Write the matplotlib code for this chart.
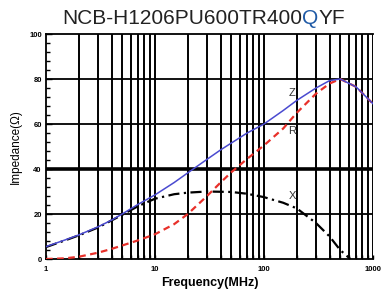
import matplotlib
matplotlib.use('Agg')
import matplotlib.pyplot as plt
from matplotlib.ticker import FixedLocator, NullFormatter, MultipleLocator

plt.rcParams['font.family'] = ['Liberation Sans', 'DejaVu Sans']

# Данные
freq = [1, 1.5, 2, 3, 4, 5, 7, 10, 15, 20, 30, 40, 50, 70, 100, 150, 200, 300, 400, 500, 700, 1000]
z_vals = [5.5, 8.5, 10.7, 14.3, 17.3, 20.0, 24.3, 28.5, 34.0, 38.3, 44.3, 48.5, 51.5, 56.0, 60.0, 66.0, 70.5, 76.0, 79.3, 80.0, 76.5, 69.0]
r_vals = [0.0, 0.3, 1.0, 2.8, 4.5, 6.0, 8.3, 11.0, 15.5, 20.0, 28.0, 34.0, 38.5, 44.5, 50.5, 58.0, 65.0, 73.5, 78.0, 80.0, 76.5, 69.0]
x_freq = [1, 1.5, 2, 3, 5, 7, 10, 15, 20, 30, 50, 70, 100, 150, 200, 300, 400, 500, 620]
x_vals = [5.3, 8.3, 10.5, 14.0, 19.6, 23.5, 26.8, 28.8, 29.5, 30.0, 29.8, 29.0, 27.5, 25.0, 22.5, 16.0, 10.0, 4.0, 0.0]

title_parts = ['NCB-H1206PU600TR400', 'Q', 'YF']
curve_labels = ['Z', 'R', 'X']

fig = plt.figure(figsize=(3.82, 2.95), dpi=100)
ax = fig.add_axes([0.1204, 0.122, 0.8560, 0.7627])

ax.plot(x_freq, x_vals, color='black', lw=1.6, ls=(0, (5, 2, 1, 2)), zorder=3)
ax.plot(freq, r_vals, color='#e8302a', lw=1.6, ls=(0, (3, 2)), zorder=4)
ax.plot(freq, z_vals, color='#4a4ad0', lw=1.1, zorder=5)

ax.set_xscale('log')
ax.set_xlim(1, 1000)
ax.set_ylim(0, 100)

# Вертикальная сетка на каждой доле декады
minor = [m * 10 ** d for d in range(3) for m in range(2, 10)]
ax.xaxis.set_minor_locator(FixedLocator(minor))
ax.xaxis.set_minor_formatter(NullFormatter())
ax.set_xticks([1, 10, 100, 1000])
ax.set_xticklabels(['1', '10', '100', '1000'])
for f in minor + [10, 100, 1000]:
    ax.axvline(f, color='black', lw=1.4, zorder=1)
for v in [20, 60, 80]:
    ax.axhline(v, color='black', lw=1.3, zorder=1)
ax.axhline(40, color='black', lw=2.6, zorder=1)

ax.set_yticks([0, 20, 40, 60, 80, 100])
ax.yaxis.set_minor_locator(MultipleLocator(4))
ax.tick_params(axis='both', which='both', direction='in', labelsize=5.5, width=1.0)
ax.tick_params(axis='y', which='major', length=4, pad=3)
ax.tick_params(axis='y', which='minor', length=3)
ax.tick_params(axis='x', which='both', length=3, pad=5)
for lbl in ax.get_xticklabels() + ax.get_yticklabels():
    lbl.set_fontweight('bold')

for s in ax.spines.values():
    s.set_linewidth(1.3)
ax.spines['right'].set_visible(False)

ax.set_xlabel('Frequency(MHz)', fontsize=9, fontweight='bold', labelpad=3)
ax.set_ylabel('Impedance(Ω)', fontsize=8.5, labelpad=5)

ax.text(168, 74, curve_labels[0], fontsize=8, color='#333333', va='center')
ax.text(168, 57, curve_labels[1], fontsize=8, color='#333333', va='center')
ax.text(168, 28, curve_labels[2], fontsize=8, color='#333333', va='center')

t1 = fig.text(0.163, 0.905, title_parts[0], fontsize=15, color='#222222', va='bottom')
t2 = plt.annotate(title_parts[1], xy=(1, 0), xycoords=t1, va='bottom', fontsize=15, color='#1f5aa6',
                  annotation_clip=False)
plt.annotate(title_parts[2], xy=(1, 0), xycoords=t2, va='bottom', fontsize=15, color='#222222',
             annotation_clip=False)

plt.savefig('out.png', dpi=100)
plt.close()
